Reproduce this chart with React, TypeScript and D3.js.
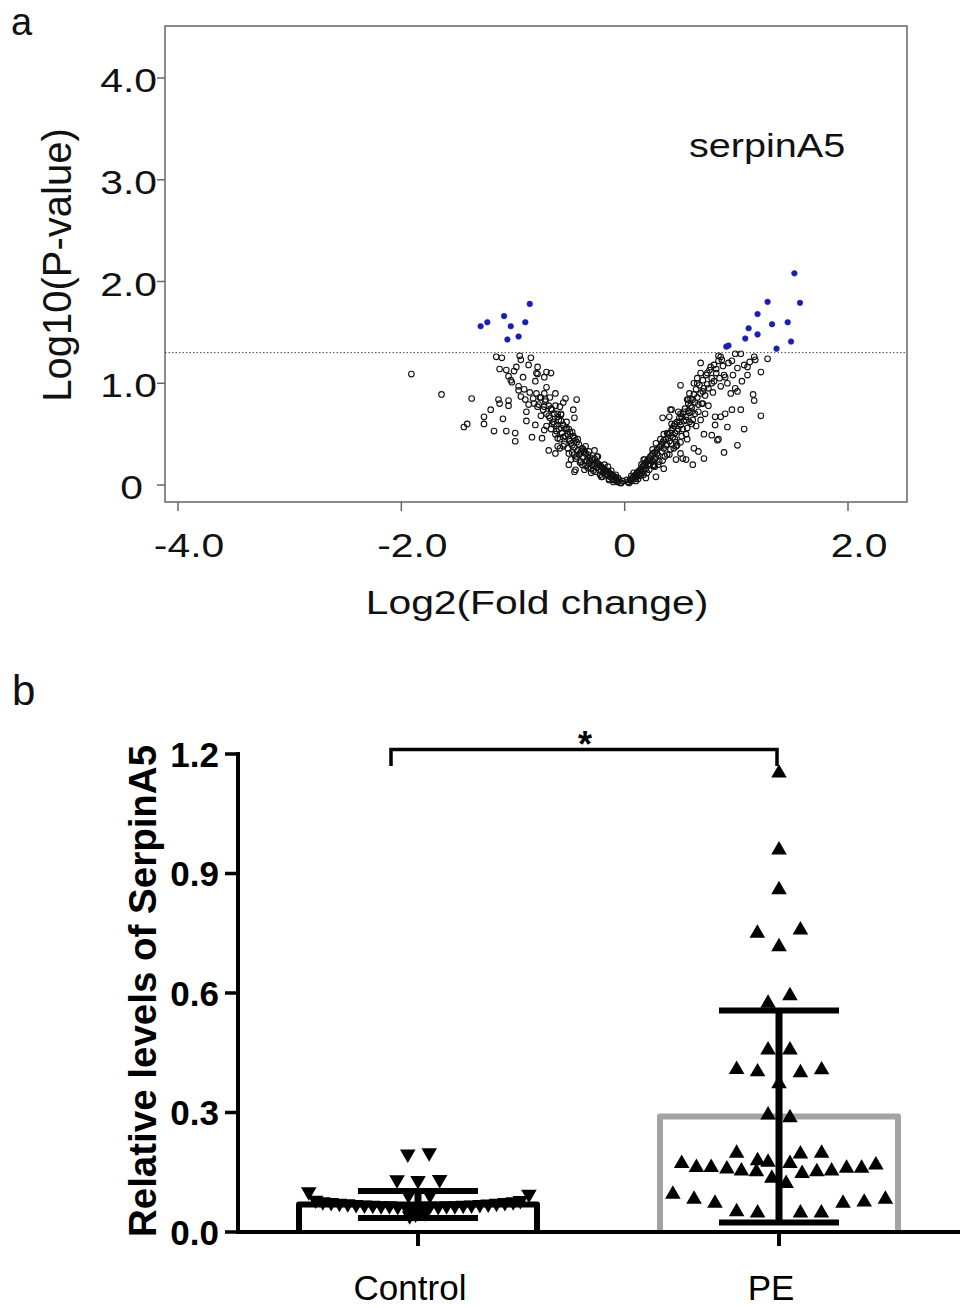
import React from 'react';
import * as d3 from 'd3';

// ---------- Panel a: volcano plot data ----------
const xTicksA = [-4, -2, 0, 2];
const xTickLabelsA = ['-4.0', '-2.0', '0', '2.0'];
const yTicksA = [0, 1, 2, 3, 4];
const yTickLabelsA = ['0', '1.0', '2.0', '3.0', '4.0'];
const pThreshold = 1.301;
const geneLabel = 'serpinA5';

// significant (blue) points [log2FC, log10P]
const sigPoints: [number, number][] = [
  [-0.85, 1.78], [-1.08, 1.66], [-1.23, 1.6], [-1.29, 1.56], [-1.02, 1.56], [-0.89, 1.6], [-0.95, 1.46], [-1.05, 1.43],
  [1.52, 2.08], [1.57, 1.79], [1.28, 1.8], [1.19, 1.68], [1.32, 1.58], [1.46, 1.6], [1.11, 1.54], [1.19, 1.48],
  [1.08, 1.44], [1.49, 1.41], [0.93, 1.37], [0.91, 1.36], [1.36, 1.34],
];

// non-significant (open) points [log2FC, log10P]
const nsPoints: [number, number][] = [
  // left arm, dense band
  [-0.03, 0.02], [-0.05, 0.05], [-0.06, 0.03], [-0.08, 0.07], [-0.09, 0.05], [-0.1, 0.09], [-0.11, 0.06], [-0.12, 0.1],
  [-0.13, 0.08], [-0.14, 0.12], [-0.15, 0.09], [-0.16, 0.13], [-0.17, 0.11], [-0.18, 0.15], [-0.19, 0.12], [-0.2, 0.17],
  [-0.21, 0.14], [-0.22, 0.19], [-0.23, 0.15], [-0.24, 0.21], [-0.25, 0.17], [-0.26, 0.13], [-0.27, 0.22], [-0.28, 0.19],
  [-0.29, 0.25], [-0.3, 0.16], [-0.31, 0.27], [-0.32, 0.21], [-0.33, 0.3], [-0.34, 0.24], [-0.35, 0.19], [-0.36, 0.33],
  [-0.37, 0.27], [-0.38, 0.36], [-0.39, 0.23], [-0.4, 0.31], [-0.41, 0.4], [-0.42, 0.34], [-0.43, 0.28], [-0.44, 0.44],
  [-0.45, 0.37], [-0.46, 0.48], [-0.47, 0.32], [-0.48, 0.41], [-0.49, 0.52], [-0.5, 0.45], [-0.51, 0.36], [-0.52, 0.56],
  [-0.53, 0.48], [-0.54, 0.4], [-0.55, 0.59], [-0.56, 0.51], [-0.57, 0.63], [-0.58, 0.45], [-0.59, 0.55], [-0.6, 0.67],
  [-0.61, 0.58], [-0.62, 0.5], [-0.63, 0.7], [-0.64, 0.62], [-0.65, 0.74], [-0.66, 0.55], [-0.67, 0.66], [-0.68, 0.78],
  [-0.7, 0.7], [-0.71, 0.82], [-0.73, 0.74], [-0.75, 0.86], [-0.77, 0.79], [-0.79, 0.9], [-0.82, 0.85],
  [-0.02, 0.04], [-0.04, 0.02], [-0.07, 0.04], [-0.09, 0.08], [-0.11, 0.1], [-0.13, 0.11], [-0.15, 0.14], [-0.17, 0.14],
  [-0.19, 0.16], [-0.21, 0.18], [-0.23, 0.2], [-0.25, 0.22], [-0.27, 0.26], [-0.29, 0.2], [-0.31, 0.24], [-0.33, 0.27],
  [-0.35, 0.31], [-0.37, 0.35], [-0.39, 0.33], [-0.41, 0.3], [-0.43, 0.42], [-0.45, 0.46], [-0.47, 0.39], [-0.49, 0.43],
  [-0.51, 0.5], [-0.53, 0.55], [-0.55, 0.47], [-0.57, 0.56], [-0.59, 0.64], [-0.61, 0.53], [-0.63, 0.6],
  [-0.15, 0.18], [-0.2, 0.08], [-0.25, 0.28], [-0.3, 0.12], [-0.35, 0.38], [-0.4, 0.22], [-0.45, 0.3], [-0.5, 0.55],
  [-0.55, 0.38], [-0.6, 0.46], [-0.65, 0.6], [-0.7, 0.58], [-0.52, 0.62], [-0.42, 0.45], [-0.32, 0.33], [-0.22, 0.1],
  [-0.18, 0.2], [-0.12, 0.14], [-0.08, 0.1], [-0.38, 0.2], [-0.47, 0.52], [-0.57, 0.7], [-0.62, 0.78], [-0.68, 0.68],
  [-0.06, 0.07], [-0.1, 0.03], [-0.14, 0.06], [-0.28, 0.14], [-0.33, 0.17], [-0.44, 0.26], [-0.5, 0.31], [-0.58, 0.36],
  // left scatter
  [-1.91, 1.09], [-1.64, 0.89], [-1.37, 0.85], [-1.44, 0.57], [-1.41, 0.6], [-1.26, 0.67], [-1.26, 0.6], [-1.2, 0.74],
  [-1.13, 0.84], [-1.12, 0.8], [-1.04, 0.83], [-1.04, 0.78], [-1.09, 0.65], [-1.17, 0.53], [-1.06, 0.53], [-0.98, 0.51],
  [-0.98, 0.43], [-0.88, 0.63], [-0.8, 0.59], [-0.83, 0.47], [-0.74, 0.46], [-0.72, 0.54], [-1.15, 1.26], [-1.1, 1.25],
  [-0.94, 1.27], [-0.93, 1.23], [-0.84, 1.25], [-1.12, 1.14], [-1.06, 1.13], [-0.97, 1.16], [-0.99, 1.12], [-0.86, 1.18],
  [-0.78, 1.16], [-0.78, 1.09], [-0.79, 1.1], [-1.04, 1.07], [-1.02, 1.03], [-0.7, 1.11], [-0.66, 1.1], [-0.72, 1.06],
  [-1.01, 1.01], [-0.95, 0.97], [-0.95, 0.93], [-0.9, 0.94], [-0.7, 0.96], [-0.72, 0.9], [-0.76, 0.86], [-0.71, 0.84],
  [-0.93, 0.87], [-0.89, 0.84], [-0.86, 0.79], [-0.81, 0.8], [-0.78, 0.77], [-0.72, 0.77], [-0.53, 0.85], [-0.43, 0.84],
  [-0.55, 0.81], [-0.66, 0.75], [-0.6, 0.7], [-0.57, 0.69], [-0.46, 0.74], [-0.45, 0.66], [-0.68, 0.34], [-0.62, 0.31],
  [-0.48, 0.25], [-0.45, 0.13], [-0.5, 0.2], [-0.6, 0.38], [-0.44, 0.15], [-0.36, 0.15], [-0.27, 0.34], [-0.24, 0.28],
  [-0.21, 0.08], [-0.14, 0.05], [-0.1, 0.05], [-0.62, 0.9], [-0.8, 1.02], [-0.85, 0.91], [-0.91, 1.06], [-0.67, 0.86],
  [-0.58, 0.77], [-0.75, 0.68], [-0.88, 0.72],
  // right arm, dense band
  [0.03, 0.03], [0.05, 0.05], [0.06, 0.04], [0.08, 0.08], [0.09, 0.06], [0.1, 0.1], [0.11, 0.08], [0.12, 0.13],
  [0.13, 0.1], [0.14, 0.15], [0.15, 0.12], [0.16, 0.18], [0.17, 0.14], [0.18, 0.2], [0.19, 0.16], [0.2, 0.23],
  [0.21, 0.19], [0.22, 0.26], [0.23, 0.21], [0.24, 0.29], [0.25, 0.24], [0.26, 0.19], [0.27, 0.32], [0.28, 0.27],
  [0.29, 0.35], [0.3, 0.29], [0.31, 0.23], [0.32, 0.38], [0.33, 0.33], [0.34, 0.42], [0.35, 0.36], [0.36, 0.28],
  [0.37, 0.45], [0.38, 0.4], [0.39, 0.5], [0.4, 0.43], [0.41, 0.35], [0.42, 0.54], [0.43, 0.47], [0.44, 0.58],
  [0.45, 0.51], [0.46, 0.42], [0.47, 0.62], [0.48, 0.55], [0.49, 0.66], [0.5, 0.59], [0.51, 0.48], [0.52, 0.7],
  [0.53, 0.63], [0.54, 0.75], [0.55, 0.67], [0.56, 0.56], [0.57, 0.8], [0.58, 0.71], [0.59, 0.85], [0.6, 0.76],
  [0.61, 0.64], [0.62, 0.89], [0.63, 0.81], [0.64, 0.94], [0.65, 0.86], [0.66, 0.72], [0.67, 0.98], [0.68, 0.9],
  [0.7, 1.03], [0.71, 0.95], [0.73, 1.08], [0.74, 0.99], [0.76, 1.13], [0.78, 1.05], [0.8, 1.18], [0.82, 1.1],
  [0.84, 1.22], [0.86, 1.26],
  [0.02, 0.05], [0.04, 0.02], [0.07, 0.07], [0.09, 0.09], [0.11, 0.12], [0.13, 0.14], [0.15, 0.16], [0.17, 0.19],
  [0.19, 0.22], [0.21, 0.25], [0.23, 0.28], [0.25, 0.31], [0.27, 0.26], [0.29, 0.31], [0.31, 0.37], [0.33, 0.4],
  [0.35, 0.44], [0.37, 0.39], [0.39, 0.46], [0.41, 0.51], [0.43, 0.56], [0.45, 0.6], [0.47, 0.53], [0.49, 0.62],
  [0.51, 0.67], [0.53, 0.72], [0.55, 0.64], [0.57, 0.73], [0.59, 0.78], [0.61, 0.84],
  [0.15, 0.2], [0.2, 0.12], [0.25, 0.35], [0.3, 0.2], [0.35, 0.5], [0.4, 0.3], [0.45, 0.45], [0.5, 0.7],
  [0.55, 0.5], [0.6, 0.6], [0.65, 1.0], [0.7, 0.8], [0.52, 0.55], [0.42, 0.6], [0.32, 0.45], [0.22, 0.15],
  [0.18, 0.25], [0.12, 0.06], [0.08, 0.12], [0.38, 0.3], [0.48, 0.72], [0.58, 0.9], [0.62, 1.0], [0.68, 1.1],
  [0.06, 0.09], [0.1, 0.04], [0.14, 0.09], [0.27, 0.18], [0.34, 0.24], [0.44, 0.36], [0.5, 0.42], [0.56, 0.45],
  // right scatter
  [0.17, 0.1], [0.28, 0.08], [0.26, 0.2], [0.28, 0.41], [0.34, 0.66], [0.38, 0.51], [0.41, 0.74], [0.5, 0.98],
  [0.56, 0.84], [0.46, 0.38], [0.52, 0.26], [0.62, 0.36], [0.66, 0.33], [0.71, 0.26], [0.61, 0.2], [0.78, 0.49],
  [0.81, 0.59], [0.83, 0.44], [0.86, 0.67], [0.57, 0.84], [0.42, 0.74], [0.4, 0.67], [0.65, 1.05], [0.68, 1.2],
  [0.77, 1.16], [0.8, 1.02], [0.86, 0.97], [0.92, 1.0], [0.99, 0.95], [0.95, 0.9], [1.01, 0.92], [0.84, 1.27],
  [0.87, 1.23], [0.99, 1.29], [1.04, 1.29], [1.16, 1.26], [1.17, 1.23], [1.07, 1.18], [1.1, 1.16], [1.01, 1.15],
  [0.89, 1.08], [0.9, 1.06], [1.1, 1.08], [1.22, 1.11], [1.28, 1.24], [1.15, 0.89], [1.16, 0.83], [1.22, 0.68],
  [0.96, 0.74], [1.04, 0.74], [0.9, 0.7], [0.81, 0.67], [0.92, 0.57], [1.07, 0.55], [1.01, 0.39], [0.89, 0.32],
  [0.84, 0.45], [0.71, 0.5], [0.55, 0.25], [0.5, 0.31], [0.46, 0.25], [0.47, 0.39], [0.17, 0.25], [0.19, 0.07],
  [0.35, 0.16], [0.7, 0.92], [0.72, 0.88], [0.75, 0.95], [0.74, 1.1], [0.78, 1.0], [0.79, 0.91], [0.82, 1.14],
  [0.85, 1.05], [0.88, 1.17], [0.93, 1.2], [0.96, 1.22], [0.97, 1.08], [1.05, 1.02], [1.12, 1.21], [0.66, 0.79],
  [0.69, 0.8], [0.63, 0.7], [0.6, 0.72], [0.58, 0.62], [0.64, 0.58], [0.68, 0.64], [0.72, 0.7], [0.75, 0.78],
];

// ---------- Panel b: bar + scatter data ----------
const groups = ['Control', 'PE'];
const groupMeans = [0.069, 0.29];
const groupSD = [0.034, 0.266];
const yTicksB = [0, 0.3, 0.6, 0.9, 1.2];
const yTickLabelsB = ['0.0', '0.3', '0.6', '0.9', '1.2'];
const yTitleB = 'Relative levels of SerpinA5';

// [value, horizontal offset as fraction of bar width]
const controlPoints: [number, number][] = [
  [0.196, -0.043], [0.199, 0.047],
  [0.131, -0.088], [0.129, 0.0], [0.132, 0.091],
  [0.093, -0.04], [0.093, 0.05],
  [0.101, -0.459], [0.095, 0.466],
  [0.08, -0.43], [0.076, -0.4], [0.074, -0.365], [0.072, -0.33], [0.071, -0.295], [0.069, -0.26], [0.068, -0.225],
  [0.067, -0.19], [0.066, -0.155], [0.066, -0.12], [0.064, -0.085], [0.063, -0.05], [0.065, 0.05], [0.064, 0.085],
  [0.066, 0.12], [0.066, 0.155], [0.067, 0.19], [0.068, 0.225], [0.069, 0.26], [0.07, 0.295], [0.072, 0.33],
  [0.074, 0.365], [0.076, 0.4], [0.079, 0.43],
  [0.058, -0.02], [0.052, 0.02], [0.045, -0.01], [0.048, 0.03], [0.041, -0.035], [0.06, 0.0],
];

const pePoints: [number, number][] = [
  [1.152, 0], [0.959, 0], [0.859, 0], [0.75, -0.091], [0.758, 0.09], [0.716, 0],
  [0.593, 0.046], [0.574, -0.046], [0.457, -0.046], [0.457, 0.046],
  [0.408, -0.178], [0.402, -0.09], [0.4, 0.09], [0.407, 0.179], [0.372, 0],
  [0.294, -0.046], [0.287, 0.046],
  [0.198, -0.178], [0.179, -0.09], [0.196, 0.09], [0.198, 0.179],
  [0.172, -0.409], [0.162, -0.347], [0.162, -0.285], [0.158, -0.219], [0.153, -0.158], [0.151, -0.095],
  [0.175, -0.046], [0.172, 0.046], [0.147, 0.097], [0.151, 0.159], [0.153, 0.221], [0.16, 0.284], [0.16, 0.347],
  [0.168, 0.407],
  [0.135, -0.03], [0.122, 0.03],
  [0.095, -0.446], [0.082, -0.357], [0.072, -0.269], [0.072, 0.269], [0.075, 0.358], [0.082, 0.447],
  [0.051, -0.178], [0.048, -0.09], [0.048, 0.09], [0.048, 0.178],
];

const FONT = "'Liberation Sans', Arial, Helvetica, sans-serif";

function SText(props: {
  x: number; y: number; sx?: number; anchor?: string; size: number; weight?: string | number;
  rotate?: number; fill?: string; children: React.ReactNode;
}) {
  const { x, y, sx = 1, anchor = 'start', size, weight = 'normal', rotate = 0, fill = '#111', children } = props;
  return (
    <text
      transform={`translate(${x},${y}) rotate(${rotate}) scale(${sx},1)`}
      textAnchor={anchor}
      fontSize={size}
      fontWeight={weight}
      fontFamily={FONT}
      fill={fill}
    >
      {children}
    </text>
  );
}

export default function App() {
  // ---------- panel a scales ----------
  const xA = d3.scaleLinear().domain([-4, 2]).range([178, 848]);
  const yA = d3.scaleLinear().domain([0, 4]).range([485, 78]);
  const frame = { left: 165, right: 907, top: 26, bottom: 502 };
  const SX = 1.2;

  // ---------- panel b scales ----------
  const xB = d3.scalePoint<string>().domain(groups).range([418, 779]);
  const yB = d3.scaleLinear().domain([0, 1.2]).range([1232, 754]);
  const barW = 238;
  const axisLeft = 238;
  const triUp = d3.symbol().type(d3.symbolTriangle).size(105)() as string;

  const barColors = ['#000', '#a3a3a6'];

  return (
    <svg width={964} height={1308} style={{ position: 'absolute', left: 0, top: 0, background: '#fff' }}>
      <rect x={0} y={0} width={964} height={1308} fill="#fff" />

      {/* ================= Panel a ================= */}
      <SText x={11} y={35} size={38}>a</SText>

      <rect x={frame.left} y={frame.top} width={frame.right - frame.left} height={frame.bottom - frame.top}
        fill="none" stroke="#666" strokeWidth={1.5} />

      {yTicksA.map((t, i) => (
        <g key={'ya' + t}>
          <line x1={frame.left - 8} x2={frame.left} y1={yA(t)} y2={yA(t)} stroke="#666" strokeWidth={1.5} />
          <SText x={yTickLabelsA[i].length > 1 ? 157 : 143} y={yA(t) + 14} sx={SX} anchor="end" size={34}>
            {yTickLabelsA[i]}
          </SText>
        </g>
      ))}
      {xTicksA.map((t, i) => (
        <g key={'xa' + t}>
          <line x1={xA(t)} x2={xA(t)} y1={frame.bottom} y2={frame.bottom + 9} stroke="#666" strokeWidth={1.5} />
          <SText x={xA(t) + (xTickLabelsA[i].length > 1 ? 11 : 0)} y={557} sx={SX} anchor="middle" size={34}>
            {xTickLabelsA[i]}
          </SText>
        </g>
      ))}

      <SText x={537} y={614} sx={SX} anchor="middle" size={34}>Log2(Fold change)</SText>
      <SText x={71} y={265} rotate={-90} anchor="middle" size={40}>Log10(P-value)</SText>
      <SText x={689} y={157} sx={SX} size={33}>{geneLabel}</SText>

      <line x1={frame.left} x2={frame.right} y1={yA(pThreshold)} y2={yA(pThreshold)}
        stroke="#444" strokeWidth={1} strokeDasharray="1.5,2" />

      {nsPoints.map((d, i) => (
        <circle key={'ns' + i} cx={xA(d[0])} cy={yA(d[1])} r={2.8} fill="none" stroke="#111" strokeWidth={1.1} />
      ))}
      {sigPoints.map((d, i) => (
        <circle key={'sg' + i} cx={xA(d[0])} cy={yA(d[1])} r={2.8} fill="#1b1fb0" stroke="#1b1fb0" strokeWidth={0.6} />
      ))}

      {/* ================= Panel b ================= */}
      <SText x={12} y={705} size={42}>b</SText>

      {/* bars */}
      {groups.map((g, i) => {
        const cx = xB(g) as number;
        const yt = yB(groupMeans[i]);
        const y0 = yB(0);
        return (
          <path key={'bar' + g}
            d={`M${cx - barW / 2},${y0} L${cx - barW / 2},${yt} L${cx + barW / 2},${yt} L${cx + barW / 2},${y0}`}
            fill="#fff" stroke={barColors[i]} strokeWidth={6} strokeLinejoin="round" />
        );
      })}

      {/* points */}
      {controlPoints.map((d, i) => (
        <path key={'cp' + i} d={triUp}
          transform={`translate(${(xB('Control') as number) + d[1] * barW},${yB(d[0])}) rotate(180)`} fill="#000" />
      ))}
      {pePoints.map((d, i) => (
        <path key={'pp' + i} d={triUp}
          transform={`translate(${(xB('PE') as number) + d[1] * barW},${yB(d[0])})`} fill="#000" />
      ))}

      {/* error bars */}
      {groups.map((g, i) => {
        const cx = xB(g) as number;
        const hi = yB(groupMeans[i] + groupSD[i]);
        const lo = yB(groupMeans[i] - groupSD[i]);
        return (
          <g key={'err' + g}>
            <line x1={cx} x2={cx} y1={hi} y2={lo} stroke="#000" strokeWidth={7} />
            <line x1={cx - 60} x2={cx + 60} y1={hi} y2={hi} stroke="#000" strokeWidth={6} />
            <line x1={cx - 60} x2={cx + 60} y1={lo} y2={lo} stroke="#000" strokeWidth={6} />
          </g>
        );
      })}

      {/* axes */}
      <line x1={axisLeft} x2={axisLeft} y1={yB(1.2) - 2} y2={yB(0) + 2} stroke="#000" strokeWidth={4} />
      <line x1={axisLeft - 2} x2={960} y1={yB(0)} y2={yB(0)} stroke="#000" strokeWidth={4} />
      {yTicksB.map((t, i) => (
        <g key={'yb' + t}>
          <line x1={axisLeft - 13} x2={axisLeft} y1={yB(t)} y2={yB(t)} stroke="#000" strokeWidth={3.5} />
          <SText x={219} y={yB(t) + 12.5} anchor="end" size={35} weight="bold" fill="#000">{yTickLabelsB[i]}</SText>
        </g>
      ))}
      {groups.map((g) => (
        <g key={'xb' + g}>
          <line x1={xB(g) as number} x2={xB(g) as number} y1={yB(0)} y2={yB(0) + 14} stroke="#000" strokeWidth={4} />
          <SText x={(xB(g) as number) - 8} y={1300} anchor="middle" size={35} fill="#000">{g}</SText>
        </g>
      ))}
      <SText x={156} y={991} rotate={-90} anchor="middle" size={38.5} weight="bold" fill="#000">{yTitleB}</SText>

      {/* significance bracket */}
      <path d={`M${(xB('Control') as number) - 27},${yB(1.17)} L${(xB('Control') as number) - 27},${yB(1.211)} L${(xB('PE') as number) - 2},${yB(1.211)} L${(xB('PE') as number) - 2},${yB(1.17)}`}
        fill="none" stroke="#000" strokeWidth={3.5} />
      <SText x={585} y={757} anchor="middle" size={36} weight="bold" fill="#000">*</SText>
    </svg>
  );
}
